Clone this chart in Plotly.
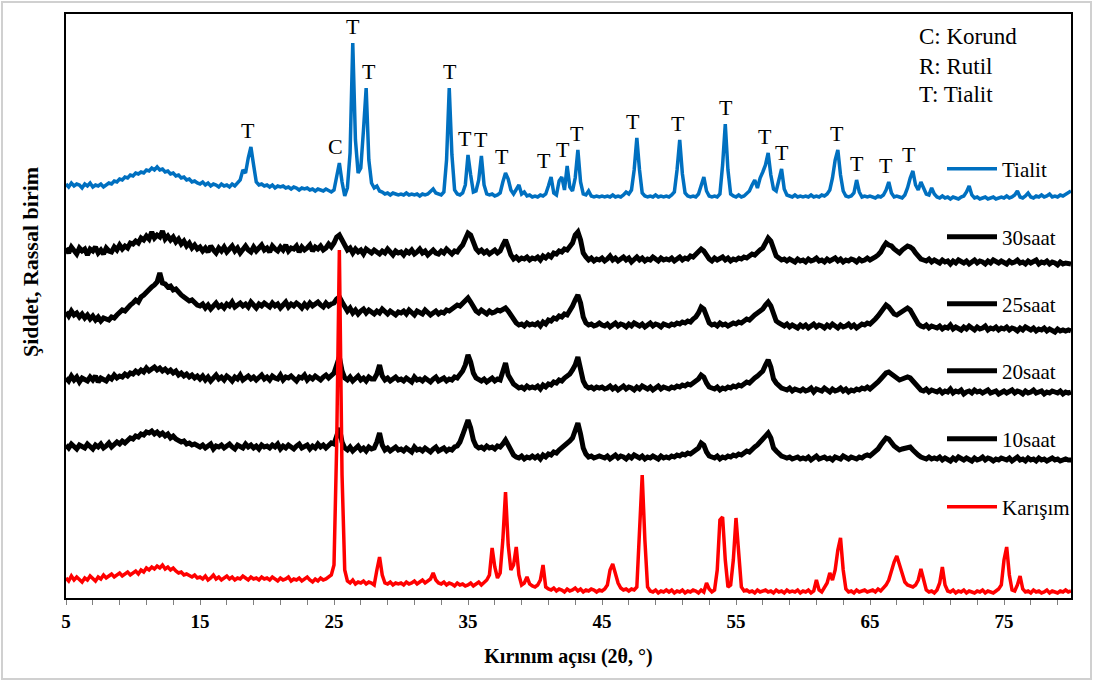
import plotly.graph_objects as go

# ---------------- data ----------------
# 2-theta scan grid: 5.0 .. 80.0 deg, 0.2 deg step
scan_start = 5.0
scan_step = 0.2

series_names = ["Tialit", "30saat", "25saat", "20saat", "10saat", "Karışım"]
series_colors = ["#0070C0", "#000000", "#000000", "#000000", "#000000", "#FF0000"]
series_widths = [3.5, 5, 5, 5, 5, 3.5]
# vertical stacking offsets (arbitrary intensity units)
series_offsets = [398, 333, 265, 203, 136, 3]

tialit = [
    16, 13, 17, 14, 16, 15, 12, 16, 14, 17, 13, 15, 14, 16, 13, 15, 17, 16, 19, 18, 21, 20, 23, 22, 25,
    24, 27, 26, 28, 27, 30, 29, 32, 30, 33, 30, 31, 28, 29, 26, 27, 24, 25, 22, 23, 20, 21, 18, 19, 17,
    16, 18, 15, 17, 14, 16, 15, 13, 16, 14, 15, 13, 16, 14, 17, 20, 30, 27, 42, 53, 35, 18, 15, 16, 14,
    15, 13, 15, 12, 14, 13, 14, 12, 13, 11, 13, 12, 10, 12, 11, 12, 10, 11, 9, 11, 10, 9, 11, 9, 8,
    10, 24, 37, 18, 4, 12, 47, 157, 60, 27, 32, 70, 112, 40, 17, 12, 14, 9, 8, 6, 7, 5, 7, 6, 5,
    6, 5, 7, 5, 6, 5, 6, 4, 6, 5, 6, 8, 11, 7, 6, 5, 8, 40, 112, 45, 10, 6, 5, 7, 15,
    45, 25, 8, 9, 20, 44, 15, 6, 5, 6, 4, 5, 7, 18, 27, 21, 10, 6, 11, 15, 6, 8, 4, 5, 3,
    4, 3, 5, 4, 6, 14, 23, 7, 5, 19, 23, 10, 34, 13, 9, 22, 50, 18, 6, 5, 9, 4, 3, 4, 3,
    4, 3, 4, 3, 5, 3, 4, 3, 5, 8, 6, 10, 30, 62, 30, 7, 4, 3, 4, 3, 5, 3, 4, 3, 4,
    3, 5, 8, 30, 60, 26, 7, 4, 3, 4, 3, 6, 15, 23, 9, 4, 3, 4, 3, 6, 35, 76, 30, 6, 4,
    3, 5, 3, 4, 6, 9, 15, 20, 12, 22, 28, 35, 47, 25, 11, 9, 20, 31, 11, 5, 4, 3, 5, 3, 4,
    3, 4, 3, 5, 3, 4, 3, 5, 4, 6, 10, 22, 40, 50, 25, 9, 4, 3, 4, 7, 20, 8, 3, 4, 3,
    4, 3, 2, 4, 3, 5, 10, 18, 7, 3, 4, 3, 2, 5, 12, 22, 29, 15, 10, 18, 12, 6, 5, 12, 6,
    3, 2, 4, 2, 3, 1, 3, 2, 1, 3, 4, 8, 14, 5, 2, 3, 1, 2, 3, 1, 2, 3, 1, 2, 3,
    2, 4, 2, 3, 5, 9, 3, 2, 4, 7, 3, 2, 4, 3, 5, 3, 4, 6, 3, 4, 3, 5, 4, 6, 7,
    9,
]

saat30 = [
    17, 12, 18, 15, 11, 17, 14, 16, 10, 16, 14, 18, 12, 15, 11, 17, 14, 13, 18, 15, 20, 16, 19, 17, 22,
    21, 24, 22, 27, 25, 29, 26, 33, 27, 30, 28, 34, 26, 29, 25, 28, 23, 26, 21, 24, 19, 22, 17, 20, 16,
    18, 14, 17, 13, 19, 15, 12, 17, 14, 18, 13, 16, 19, 14, 17, 12, 16, 19, 15, 13, 18, 14, 17, 20, 15,
    17, 13, 19, 16, 14, 18, 15, 20, 14, 17, 16, 19, 13, 18, 15, 17, 20, 14, 18, 16, 19, 15, 17, 21, 18,
    22, 28, 30, 25, 18, 15, 17, 12, 16, 13, 15, 11, 16, 14, 12, 15, 13, 11, 14, 12, 16, 13, 10, 14, 12,
    13, 10, 14, 12, 15, 11, 13, 16, 12, 14, 10, 13, 15, 12, 11, 14, 12, 16, 13, 11, 14, 13, 17, 20, 26,
    32, 30, 22, 16, 13, 15, 12, 14, 11, 13, 15, 12, 14, 20, 25, 18, 10, 6, 8, 5, 7, 6, 8, 5, 7,
    6, 8, 5, 9, 7, 10, 8, 12, 11, 14, 13, 16, 15, 19, 22, 30, 33, 25, 12, 8, 5, 7, 4, 6, 5,
    7, 4, 6, 9, 5, 7, 4, 6, 8, 5, 7, 3, 6, 8, 5, 7, 4, 6, 5, 8, 6, 4, 7, 5, 6,
    5, 7, 4, 6, 8, 5, 7, 6, 9, 8, 11, 13, 16, 14, 9, 6, 4, 7, 5, 6, 8, 5, 7, 4, 6,
    5, 7, 6, 8, 7, 9, 11, 10, 13, 15, 17, 22, 27, 24, 15, 9, 7, 5, 6, 4, 6, 5, 3, 6, 4,
    5, 3, 6, 4, 5, 7, 4, 5, 3, 6, 4, 5, 7, 4, 6, 3, 5, 4, 6, 5, 3, 6, 4, 5, 7,
    5, 6, 8, 10, 13, 18, 22, 20, 19, 16, 14, 12, 15, 17, 19, 18, 16, 12, 8, 6, 5, 4, 6, 3, 5,
    4, 2, 5, 3, 4, 1, 4, 2, 5, 3, 2, 4, 1, 3, 5, 2, 4, 3, 1, 4, 2, 5, 3, 2, 4,
    3, 1, 4, 2, 3, 5, 2, 3, 1, 4, 2, 3, 5, 1, 3, 2, 4, 1, 3, 2, 0, 3, 1, 2, 1,
    1,
]

saat25 = [
    21, 17, 22, 18, 20, 16, 19, 15, 18, 14, 17, 13, 16, 12, 15, 14, 13, 16, 15, 18, 20, 23, 22, 26, 28,
    30, 33, 31, 36, 38, 41, 44, 46, 48, 51, 60, 50, 49, 46, 47, 43, 44, 40, 38, 36, 34, 32, 33, 30, 28,
    27, 29, 25, 28, 24, 27, 30, 26, 28, 25, 29, 27, 31, 26, 28, 30, 27, 29, 26, 31, 28, 25, 29, 27, 30,
    28, 26, 30, 27, 29, 25, 28, 31, 26, 29, 27, 30, 28, 25, 29, 26, 30, 27, 29, 31, 28, 26, 30, 27, 29,
    30, 34, 36, 31, 26, 22, 25, 20, 23, 19, 22, 24, 20, 23, 21, 19, 22, 20, 24, 21, 19, 22, 20, 18, 21,
    20, 22, 19, 23, 21, 18, 22, 20, 19, 23, 21, 18, 20, 22, 19, 21, 20, 23, 22, 24, 26, 28, 27, 30, 33,
    35, 31, 26, 22, 20, 23, 21, 19, 22, 20, 21, 23, 22, 24, 25, 22, 18, 12, 10, 8, 9, 7, 10, 8, 9,
    8, 10, 7, 11, 9, 13, 12, 15, 14, 17, 16, 19, 18, 22, 27, 33, 38, 30, 16, 10, 8, 9, 7, 8, 10,
    8, 7, 9, 6, 8, 10, 7, 9, 8, 6, 9, 7, 10, 8, 7, 9, 6, 8, 10, 7, 9, 8, 6, 9, 8,
    7, 9, 8, 10, 9, 11, 10, 12, 11, 14, 16, 20, 26, 24, 15, 10, 8, 9, 7, 10, 8, 9, 7, 8, 10,
    9, 11, 10, 12, 14, 13, 16, 18, 20, 22, 24, 28, 31, 27, 18, 12, 10, 8, 7, 9, 6, 8, 7, 5, 8,
    6, 8, 5, 7, 9, 6, 8, 7, 5, 8, 6, 9, 7, 5, 8, 6, 7, 9, 6, 8, 5, 7, 9, 8, 10,
    9, 11, 14, 17, 21, 25, 28, 26, 22, 19, 18, 20, 22, 24, 25, 23, 18, 12, 9, 7, 6, 8, 5, 7, 6,
    5, 7, 4, 6, 5, 8, 4, 6, 5, 3, 6, 4, 7, 5, 3, 6, 4, 5, 7, 3, 5, 4, 6, 3, 5,
    4, 6, 3, 5, 4, 2, 5, 3, 6, 4, 3, 5, 2, 4, 3, 5, 2, 4, 3, 1, 4, 2, 3, 2, 3,
    2,
]

saat20 = [
    17, 14, 19, 15, 18, 13, 17, 16, 14, 18, 15, 19, 13, 17, 16, 14, 18, 16, 20, 17, 19, 18, 21, 19, 22,
    21, 24, 22, 25, 23, 27, 24, 26, 28, 25, 27, 24, 26, 23, 25, 22, 24, 20, 22, 19, 21, 18, 20, 17, 19,
    16, 19, 15, 18, 14, 17, 20, 16, 18, 15, 19, 17, 14, 18, 16, 20, 15, 17, 19, 16, 18, 15, 17, 20, 16,
    18, 15, 19, 17, 16, 20, 15, 18, 17, 19, 16, 14, 18, 17, 20, 15, 18, 16, 19, 17, 15, 18, 20, 17, 19,
    22, 30, 38, 24, 17, 15, 18, 14, 16, 19, 15, 17, 14, 18, 16, 16, 21, 30, 19, 15, 17, 14, 16, 18, 15,
    16, 14, 17, 15, 13, 18, 15, 16, 14, 17, 15, 13, 16, 18, 14, 15, 17, 14, 16, 15, 18, 17, 20, 24, 30,
    40, 33, 22, 17, 15, 14, 16, 13, 15, 17, 14, 16, 15, 22, 32, 20, 15, 11, 9, 7, 8, 6, 9, 7, 8,
    7, 9, 6, 10, 8, 11, 10, 13, 12, 15, 14, 17, 19, 21, 25, 30, 38, 28, 14, 9, 7, 8, 6, 8, 7,
    8, 6, 7, 9, 6, 8, 5, 7, 9, 6, 8, 7, 5, 8, 6, 9, 7, 6, 8, 5, 7, 9, 6, 8, 7,
    6, 8, 7, 9, 8, 10, 9, 11, 10, 12, 14, 16, 20, 18, 12, 8, 7, 6, 8, 5, 7, 6, 8, 7, 9,
    8, 10, 9, 11, 13, 12, 15, 17, 19, 22, 24, 30, 35, 28, 16, 12, 9, 7, 6, 5, 7, 4, 6, 5, 4,
    6, 4, 5, 7, 3, 6, 5, 4, 7, 5, 3, 6, 4, 5, 7, 4, 6, 3, 5, 4, 6, 5, 7, 6, 8,
    6, 8, 10, 13, 16, 19, 22, 23, 21, 18, 16, 15, 16, 17, 18, 17, 14, 10, 7, 5, 4, 6, 3, 5, 4,
    3, 5, 2, 4, 3, 6, 2, 4, 3, 5, 1, 3, 4, 2, 5, 3, 4, 2, 3, 5, 2, 3, 4, 1, 3,
    4, 2, 3, 5, 2, 4, 3, 1, 4, 2, 3, 5, 2, 3, 4, 1, 3, 2, 4, 3, 2, 4, 1, 3, 2,
    3,
]

saat10 = [
    17, 14, 18, 15, 13, 17, 16, 14, 18, 15, 13, 17, 15, 18, 14, 16, 19, 15, 17, 20, 18, 21, 19, 22, 24,
    23, 26, 25, 28, 27, 30, 29, 31, 28, 30, 27, 29, 26, 28, 24, 26, 23, 22, 20, 21, 18, 19, 17, 18, 16,
    15, 17, 14, 16, 18, 13, 16, 15, 17, 14, 16, 18, 15, 13, 17, 16, 14, 18, 15, 17, 14, 16, 13, 17, 15,
    16, 14, 17, 15, 18, 13, 16, 14, 17, 15, 13, 16, 18, 14, 15, 17, 13, 16, 14, 18, 15, 17, 14, 16, 19,
    18, 27, 34, 20, 14, 12, 15, 11, 13, 16, 12, 14, 11, 15, 13, 14, 20, 29, 17, 12, 14, 11, 13, 15, 12,
    13, 11, 14, 12, 10, 15, 12, 13, 11, 14, 12, 10, 13, 15, 11, 12, 14, 11, 13, 12, 15, 16, 20, 27, 35,
    42, 34, 22, 16, 14, 15, 13, 16, 14, 15, 13, 16, 15, 18, 22, 17, 11, 7, 5, 4, 6, 3, 5, 4, 6,
    4, 6, 3, 7, 5, 8, 7, 10, 9, 12, 14, 16, 18, 21, 24, 30, 39, 28, 14, 8, 5, 6, 4, 5, 6,
    5, 4, 6, 3, 5, 7, 4, 6, 5, 3, 6, 4, 7, 5, 4, 6, 3, 5, 4, 6, 5, 3, 6, 4, 5,
    4, 6, 5, 7, 6, 8, 7, 9, 8, 10, 12, 14, 19, 17, 10, 6, 5, 4, 6, 3, 5, 4, 6, 5, 7,
    6, 8, 7, 9, 11, 10, 13, 15, 17, 20, 23, 26, 29, 24, 14, 11, 8, 6, 5, 4, 5, 3, 4, 5, 3,
    4, 3, 5, 2, 4, 6, 3, 4, 5, 3, 4, 2, 5, 4, 3, 6, 4, 3, 5, 4, 3, 5, 4, 6, 7,
    6, 8, 10, 13, 17, 21, 24, 23, 19, 16, 14, 12, 13, 14, 15, 15, 12, 9, 7, 5, 4, 3, 5, 3, 4,
    3, 5, 2, 4, 3, 1, 4, 2, 5, 3, 2, 4, 3, 1, 4, 2, 3, 5, 2, 4, 3, 1, 3, 2, 4,
    3, 2, 4, 1, 3, 5, 2, 3, 1, 4, 2, 3, 1, 4, 2, 3, 1, 2, 4, 2, 3, 1, 2, 3, 2,
    2,
]

karisim = [
    17, 14, 19, 15, 18, 16, 13, 17, 15, 19, 16, 14, 18, 16, 20, 17, 19, 21, 18, 20, 22, 19, 21, 23, 20,
    22, 24, 21, 25, 23, 27, 25, 28, 26, 29, 27, 30, 26, 28, 25, 27, 24, 22, 23, 20, 21, 19, 18, 20, 17,
    18, 16, 19, 15, 17, 20, 16, 18, 15, 17, 19, 16, 18, 15, 17, 16, 19, 17, 15, 18, 16, 17, 15, 18, 16,
    17, 15, 18, 16, 14, 17, 15, 16, 18, 14, 16, 15, 17, 14, 16, 18, 15, 13, 16, 14, 17, 15, 16, 18, 20,
    30, 150, 345, 120, 25, 14, 12, 15, 11, 13, 12, 14, 11, 13, 12, 10, 25, 38, 20, 12, 11, 13, 10, 12, 11,
    12, 10, 13, 11, 12, 14, 11, 13, 15, 12, 14, 16, 22, 15, 12, 11, 13, 10, 12, 11, 9, 12, 10, 11, 9,
    10, 12, 9, 11, 13, 10, 12, 15, 20, 47, 28, 17, 22, 55, 103, 50, 25, 30, 48, 20, 10, 12, 18, 11, 9,
    8, 10, 15, 30, 8, 6, 5, 7, 4, 6, 5, 3, 6, 4, 5, 7, 4, 6, 3, 5, 4, 6, 5, 3, 5,
    4, 6, 10, 25, 31, 20, 12, 7, 5, 6, 4, 6, 5, 8, 65, 120, 55, 8, 4, 3, 5, 2, 4, 3, 5,
    3, 5, 2, 4, 3, 5, 2, 4, 3, 5, 4, 2, 5, 3, 12, 6, 3, 5, 25, 75, 78, 35, 8, 10, 35,
    77, 40, 8, 4, 5, 3, 4, 2, 5, 3, 4, 5, 3, 4, 2, 5, 3, 4, 2, 5, 3, 4, 3, 5, 2,
    4, 3, 5, 2, 4, 15, 5, 3, 8, 12, 22, 15, 25, 45, 57, 25, 6, 3, 4, 2, 5, 3, 4, 5, 3,
    4, 5, 3, 6, 4, 7, 10, 15, 25, 33, 39, 30, 22, 13, 10, 9, 8, 10, 15, 26, 14, 5, 3, 4, 2,
    5, 12, 28, 10, 4, 3, 5, 2, 4, 3, 5, 2, 4, 3, 2, 4, 3, 5, 2, 4, 3, 2, 4, 6, 10,
    35, 48, 20, 5, 4, 10, 19, 6, 3, 4, 2, 5, 3, 4, 2, 3, 5, 2, 4, 3, 2, 4, 3, 5, 3,
    4,
]

series_values = [tialit, saat30, saat25, saat20, saat10, karisim]

# phase labels on the Tialit pattern
peak_letters = ["T", "C", "T", "T", "T", "T", "T", "T", "T", "T",
                "T", "T", "T", "T", "T", "T", "T", "T", "T", "T"]
peak_label_theta = [18.6, 25.1, 26.4, 27.6, 33.65, 34.8, 36.0, 37.5, 40.7, 42.1,
                    43.1, 47.3, 50.7, 54.25, 57.2, 58.4, 62.5, 64.0, 66.2, 67.9]

phase_key = ["C: Korund", "R: Rutil", "T: Tialit"]

x_tick_values = [5, 15, 25, 35, 45, 55, 65, 75]
x_title = "Kırınım açısı (2θ, °)"
y_title = "Şiddet, Rassal birim"

# ---------------- figure ----------------
SERIF = "Liberation Serif"
W, H = 1094, 682
ML, MR, MT, MB = 66, 23, 14, 84
PW, PH = W - ML - MR, H - MT - MB


def px_to_paper(px, py):
    return (px - ML) / PW, (H - MB - py) / PH


fig = go.Figure()
legend_ids = ["legend", "legend2", "legend3", "legend4", "legend5", "legend6"]
legend_centers_px = [169, 237, 304, 371, 439, 507]

grids = []
for name, vals, off, color, width, lid in zip(series_names, series_values, series_offsets,
                                                series_colors, series_widths, legend_ids):
    xs = [round(scan_start + i * scan_step, 2) for i in range(len(vals))]
    grids.append(xs)
    fig.add_trace(go.Scatter(
        x=xs, y=[off + v for v in vals], mode="lines", name=name,
        line=dict(color=color, width=width), legend=lid, hoverinfo="x+name",
    ))

layout_legends = {}
for lid, cy in zip(legend_ids, legend_centers_px):
    lx, ly = px_to_paper(942, cy)
    layout_legends[lid] = dict(
        x=lx, y=ly, xanchor="left", yanchor="middle", bgcolor="rgba(0,0,0,0)",
        borderwidth=0, font=dict(family=SERIF, size=21, color="black"),
        itemwidth=50, tracegroupgap=0,
    )

annotations = []
# peak letters placed just above the local maximum of the Tialit pattern
t_x, t_vals, t_off = grids[0], tialit, series_offsets[0]
for letter, th in zip(peak_letters, peak_label_theta):
    local = [v for xv, v in zip(t_x, t_vals) if abs(xv - th) <= 0.6]
    annotations.append(dict(
        x=th, y=t_off + max(local), xref="x", yref="y", text=letter, showarrow=False,
        xanchor="center", yanchor="bottom", yshift=2,
        font=dict(family=SERIF, size=22, color="black"),
    ))

for txt, py in zip(phase_key, [37, 66, 94]):
    ax, ay = px_to_paper(917, py)
    annotations.append(dict(
        x=ax, y=ay, xref="paper", yref="paper", text=txt, showarrow=False,
        xanchor="left", yanchor="middle", font=dict(family=SERIF, size=23, color="black"),
    ))

tx, ty = px_to_paper(30, 262)
annotations.append(dict(
    x=tx, y=ty, xref="paper", yref="paper", text="<b>" + y_title + "</b>", showarrow=False,
    textangle=-90, xanchor="center", yanchor="middle",
    font=dict(family=SERIF, size=22, color="black"),
))

bx0, by0 = px_to_paper(2, 679)
bx1, by1 = px_to_paper(1091, 2)

fig.update_layout(
    width=W, height=H,
    margin=dict(l=ML, r=MR, t=MT, b=MB, pad=0),
    paper_bgcolor="white", plot_bgcolor="white",
    font=dict(family=SERIF, color="black"),
    showlegend=True,
    annotations=annotations,
    shapes=[dict(type="rect", xref="paper", yref="paper", x0=bx0, y0=by0, x1=bx1, y1=by1,
                 line=dict(color="#d0d0d0", width=2), fillcolor="rgba(0,0,0,0)", layer="below")],
    **layout_legends,
)

fig.update_xaxes(
    range=[5, 80], tickvals=x_tick_values, ticktext=[str(v) for v in x_tick_values],
    ticks="outside", ticklen=5, tickwidth=1, tickcolor="#808080",
    minor=dict(tick0=5, dtick=2, ticks="outside", ticklen=5, tickwidth=1, tickcolor="#808080"),
    showline=True, linecolor="black", linewidth=2, mirror=True,
    showgrid=False, zeroline=False,
    tickfont=dict(family=SERIF, size=19, color="black", weight="bold"),
    title=dict(text=x_title, font=dict(family=SERIF, size=20, color="black", weight="bold"), standoff=18),
)
fig.update_yaxes(
    range=[0, PH], showticklabels=False, ticks="",
    showline=True, linecolor="black", linewidth=2, mirror=True,
    showgrid=False, zeroline=False,
)

fig.write_html("out.html", post_script="document.body.style.margin='0px';",
               config={"displayModeBar": False})
